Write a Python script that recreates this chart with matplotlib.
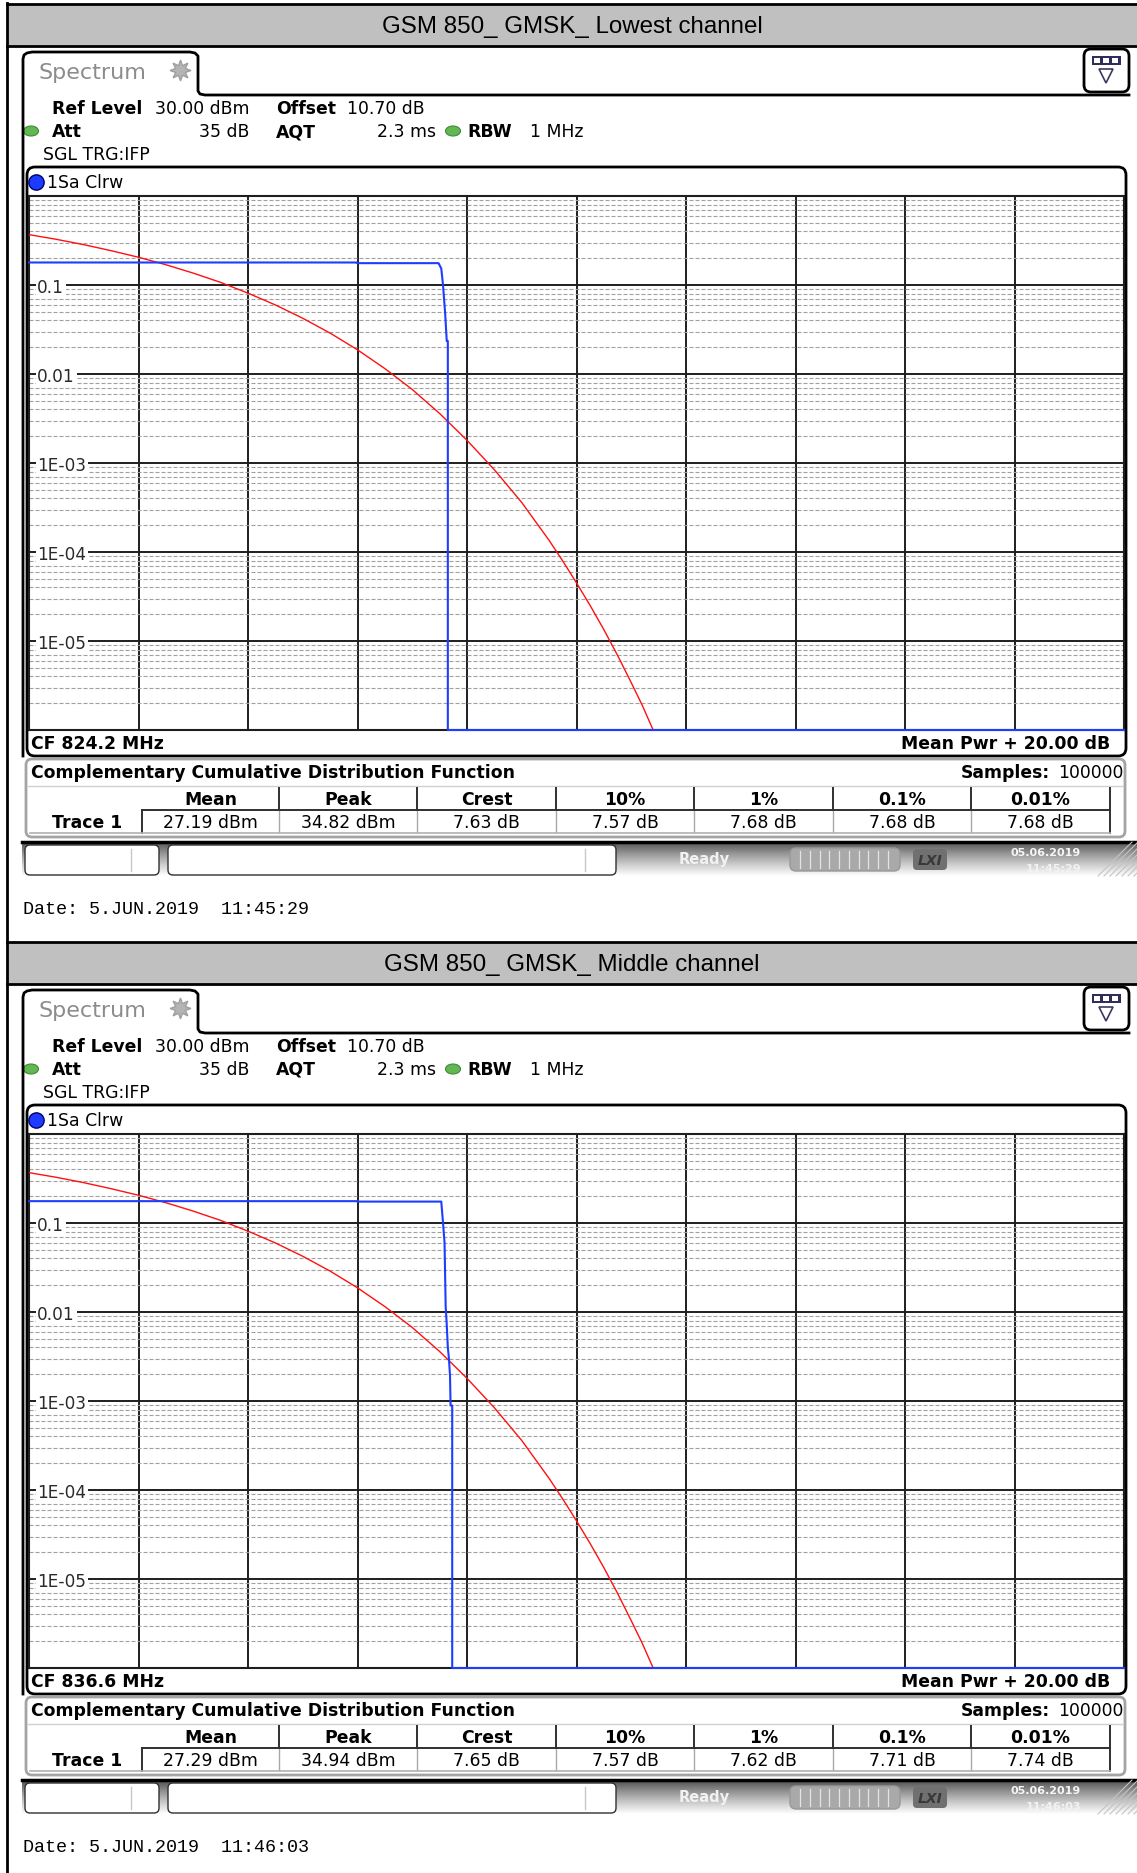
import numpy as np
import matplotlib

matplotlib.use("Agg")
import matplotlib.pyplot as plt
from matplotlib.patches import Rectangle, FancyBboxPatch, Ellipse
from matplotlib.ticker import FixedLocator, LogLocator

plt.rcParams["font.family"] = "DejaVu Sans"

W, H = 1137, 1874
PANEL_DY = 938

TITLES = ["GSM 850_ GMSK_ Lowest channel", "GSM 850_ GMSK_ Middle channel"]
CENTER_FREQ = ["CF 824.2 MHz", "CF 836.6 MHz"]
DATES = ["Date: 5.JUN.2019  11:45:29", "Date: 5.JUN.2019  11:46:03"]
CLOCKS = ["11:45:29", "11:46:03"]

TABLE_HEAD = ["Mean", "Peak", "Crest", "10%", "1%", "0.1%", "0.01%"]
TABLE_LOW = ["27.19 dBm", "34.82 dBm", "7.63 dB", "7.57 dB", "7.68 dB", "7.68 dB", "7.68 dB"]
TABLE_MID = ["27.29 dBm", "34.94 dBm", "7.65 dB", "7.57 dB", "7.62 dB", "7.71 dB", "7.74 dB"]

YLABELS = ["0.1", "0.01", "1E-03", "1E-04", "1E-05"]
YLABEL_POS = [1e-1, 1e-2, 1e-3, 1e-4, 1e-5]

# gaussian reference (red): dB above mean power -> probability
REF_DB = [0.0, 0.5, 1.0, 1.5, 2.0, 2.5, 3.0, 3.5, 4.0, 4.5, 5.0, 5.5, 6.0, 6.5,
          7.0, 7.5, 8.0, 8.5, 9.0, 9.5, 9.75, 10.0, 10.25, 10.5, 10.75, 11.0,
          11.2, 11.4]
REF_P = [0.368, 0.326, 0.284, 0.243, 0.205, 0.169, 0.136, 0.107, 0.081, 0.0597,
         0.0423, 0.0288, 0.0187, 0.0115, 0.0067, 0.0036, 0.0018, 0.00084,
         0.00036, 0.000135, 7.9e-5, 4.5e-5, 2.5e-5, 1.34e-5, 6.9e-6, 3.4e-6,
         1.9e-6, 1.0e-6]

# trace 1 (blue), zero probability sits on the bottom line
LOW_DB = [0, 6.0, 6.0, 7.48, 7.53, 7.56, 7.60, 7.63, 7.65, 7.65, 20]
LOW_P = [0.179, 0.179, 0.176, 0.176, 0.153, 0.103, 0.049, 0.0235, 0.0235, 1e-6, 1e-6]
MID_DB = [0, 6.0, 6.0, 7.53, 7.56, 7.59, 7.61, 7.63, 7.65, 7.67, 7.69, 7.70,
          7.73, 7.73, 20]
MID_P = [0.176, 0.176, 0.174, 0.174, 0.104, 0.060, 0.0118, 0.0072, 0.0040,
         0.0030, 0.0019, 0.00089, 0.00089, 1e-6, 1e-6]

COLS = [142, 279, 417, 556, 694, 833, 971, 1110]
FS = 12.4


def rbox(d, x, y, w, h, r, **kw):
    d.add_patch(FancyBboxPatch((x, y), w, h,
                               boxstyle=f"round,pad=0,rounding_size={r}", **kw))


def draw_frame(d, dy, title, cf, values, date, clock):
    bold = dict(fontweight="bold", fontsize=FS, va="center")
    norm = dict(fontsize=FS, va="center")

    # title bar
    d.add_patch(Rectangle((7, dy + 5), W - 7, 42, fc="#c0c0c0", ec="none"))
    d.plot([7, W], [dy + 5, dy + 5], color="black", lw=2)
    d.plot([7, W], [dy + 47, dy + 47], color="black", lw=2)
    d.text(572, dy + 27, title, family="Liberation Sans", fontsize=17.4,
           ha="center", va="center")

    # tab outline
    tx = [23, 23, 24, 27, 32, 190, 195, 198, 198, 200, 205, 1129]
    ty = [757, 60, 56, 54, 53, 53, 54, 57, 92, 95, 96, 96]
    d.plot(tx, [v + dy for v in ty], color="black", lw=2, solid_joinstyle="round")
    d.text(38, dy + 73, "Spectrum", color="#8c8c8c", fontsize=16, va="center")
    d.plot(180, dy + 71, marker=(8, 1, 0), ms=15, color="#b4b4b4", mec="#a0a0a0")

    # menu icon
    rbox(d, 1084, dy + 50, 45, 43, 7, fc="white", ec="black", lw=2)
    d.add_patch(Rectangle((1092, dy + 57), 29, 9, fc="#2e2e58", ec="none"))
    for k in range(3):
        d.add_patch(Rectangle((1094 + k * 9, dy + 59), 6, 5, fc="white", ec="none"))
    d.plot(1106, dy + 77, marker="v", ms=10, mfc="white", mec="#3a3a60", mew=1.2)

    # settings
    d.text(52, dy + 109, "Ref Level", **bold)
    d.text(155, dy + 109, "30.00 dBm", **norm)
    d.text(276, dy + 109, "Offset", **bold)
    d.text(347, dy + 109, "10.70 dB", **norm)
    for ex in (31, 453):
        d.add_patch(Ellipse((ex, dy + 132), 15, 10, fc="#62b752", ec="#3f8a35", lw=0.8))
    d.text(52, dy + 132, "Att", **bold)
    d.text(249, dy + 132, "35 dB", ha="right", **norm)
    d.text(276, dy + 132, "AQT", **bold)
    d.text(436, dy + 132, "2.3 ms", ha="right", **norm)
    d.text(467, dy + 132, "RBW", **bold)
    d.text(530, dy + 132, "1 MHz", **norm)
    d.text(43, dy + 155, "SGL TRG:IFP", **norm)

    # trace window
    rbox(d, 27, dy + 168, 1099, 589, 8, fc="white", ec="black", lw=2)
    d.plot(36, dy + 183, "o", ms=11, color="#1e3cff", mec="#00006a", mew=1)
    d.text(47, dy + 183, "1Sa Clrw", **norm)
    d.text(31, dy + 744, cf, **bold)
    d.text(1110, dy + 744, "Mean Pwr + 20.00 dB", ha="right", **bold)

    # CCDF result table
    rbox(d, 26, dy + 760, 1099, 78, 6, fc="white", ec="#a4a4a4", lw=2)
    d.text(31, dy + 773, "Complementary Cumulative Distribution Function", **bold)
    d.text(1050, dy + 773, "Samples:", ha="right", **bold)
    d.text(1123, dy + 773, "100000", ha="right", **norm)
    d.plot([28, 1123], [dy + 787, dy + 787], color="#d0d0d0", lw=1)
    for i, (head, val) in enumerate(zip(TABLE_HEAD, values)):
        xc = (COLS[i] + COLS[i + 1]) / 2
        d.text(xc, dy + 800, head, ha="center", **bold)
        d.text(xc, dy + 823, val, ha="center", **norm)
    for x in COLS[1:-1]:
        d.plot([x, x], [dy + 789, dy + 811], color="#303030", lw=1.4)
        d.plot([x, x], [dy + 811, dy + 833], color="#a8a8a8", lw=1)
    d.plot([1110, 1110], [dy + 789, dy + 834], color="#303030", lw=1.4)
    d.plot([142, 1110], [dy + 811, dy + 811], color="#303030", lw=1.4)
    d.plot([142, 142], [dy + 811, dy + 834], color="#303030", lw=1.4)
    d.plot([30, 1110], [dy + 834, dy + 834], color="#b0b0b0", lw=1.2)
    d.text(87, dy + 823, "Trace 1", ha="center", **bold)

    # status bar
    grad = np.linspace(0.18, 0.99, 40)[:, None] ** 0.7
    d.imshow(np.repeat(grad, 2, axis=1), cmap="gray", vmin=0, vmax=1,
             extent=(22, W, dy + 877, dy + 843), aspect="auto", zorder=1)
    d.plot([22, W], [dy + 843, dy + 843], color="black", lw=2.5, zorder=2)
    rbox(d, 25, dy + 846, 134, 30, 5, fc="white", ec="#303030", lw=1, zorder=2)
    rbox(d, 168, dy + 846, 448, 30, 5, fc="white", ec="#303030", lw=1, zorder=2)
    for x in (131, 585):
        d.plot([x, x], [dy + 850, dy + 872], color="#c8c8c8", lw=1, zorder=3)
    d.text(704, dy + 860, "Ready", ha="center", va="center", color="#f2f2f2",
           fontweight="bold", fontsize=10.5, zorder=3)
    rbox(d, 790, dy + 849, 110, 23, 6, fc="#a9a9a9", ec="#999999", lw=1, zorder=2)
    for x in np.linspace(800, 888, 10):
        d.plot([x, x], [dy + 852, dy + 869], color="#e4e4e4", lw=0.9, zorder=3)
    rbox(d, 913, dy + 850, 34, 21, 4, fc="#707070", ec="none", zorder=2)
    d.text(930, dy + 861, "LXI", ha="center", va="center", color="#383838",
           fontweight="bold", style="italic", fontsize=10, zorder=3)
    d.text(1081, dy + 853, "05.06.2019", ha="right", va="center", color="#f6f6f6",
           fontweight="bold", fontsize=8, zorder=3)
    d.text(1081, dy + 869, clock, ha="right", va="center", color="#f2f2f2",
           fontweight="bold", fontsize=8, zorder=3)
    for k in range(7):
        x0 = 1098 + 6 * k
        d.plot([x0, min(W, x0 + 34)], [dy + 877, dy + 877 - (min(W, x0 + 34) - x0)],
               color="#c4c4c4", lw=0.8, zorder=3)

    d.text(23, dy + 910, date, family="Liberation Mono", fontsize=13.2, va="center")


def add_trace(fig, dy, blue_db, blue_p):
    left, right, top, bottom = 29, 1124, 197 + dy, 731 + dy
    ax = fig.add_axes([left / W, 1 - bottom / H, (right - left) / W, (bottom - top) / H])
    ax.set_yscale("log")
    ax.set_xlim(0, 20)
    ax.set_ylim(1e-6, 1)
    ax.set_xticks(np.arange(0, 21, 2))
    ax.yaxis.set_major_locator(FixedLocator(10.0 ** np.arange(-6, 1)))
    ax.yaxis.set_minor_locator(LogLocator(base=10, subs=np.arange(2, 10), numticks=20))
    ax.tick_params(which="both", length=0, labelbottom=False, labelleft=False)
    ax.grid(which="major", color="#1e1e1e", lw=1.4)
    ax.grid(which="minor", axis="y", color="#a0a0a0", lw=0.8, ls=(0, (3.6, 1.8)))
    for s in ax.spines.values():
        s.set_linewidth(1.5)
        s.set_color("#1e1e1e")

    ax.plot(REF_DB, REF_P, color="#ff1010", lw=1.0, zorder=3)
    ax.plot(blue_db, blue_p, color="#1f3dff", lw=1.5, clip_on=False, zorder=4)

    for v, lab in zip(YLABEL_POS, YLABELS):
        ax.text(0.15, v, lab, fontsize=12.2, color="#2a2a2a", va="center_baseline",
                ha="left", zorder=5, bbox=dict(fc="white", ec="none", pad=1.2))
    return ax


def main():
    fig = plt.figure(figsize=(W / 100, H / 100), dpi=100)
    d = fig.add_axes([0, 0, 1, 1])
    d.set_axis_off()

    tables = [TABLE_LOW, TABLE_MID]
    traces = [(LOW_DB, LOW_P), (MID_DB, MID_P)]
    for i in range(2):
        dy = i * PANEL_DY
        draw_frame(d, dy, TITLES[i], CENTER_FREQ[i], tables[i], DATES[i], CLOCKS[i])
        add_trace(fig, dy, *traces[i])

    d.plot([7, 7], [4, H], color="black", lw=2)
    d.set_xlim(0, W)
    d.set_ylim(H, 0)

    fig.savefig("out.png", dpi=100)


if __name__ == "__main__":
    main()
